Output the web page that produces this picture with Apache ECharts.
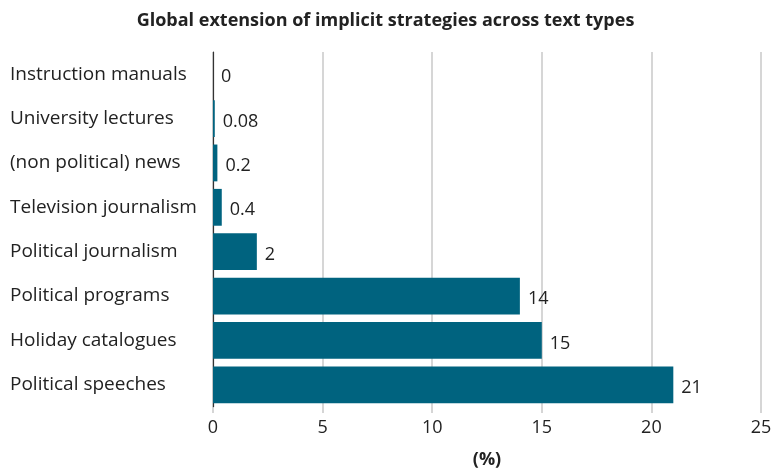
<!DOCTYPE html>
<html>
<head>
<meta charset="utf-8">
<script src="https://cdn.jsdelivr.net/npm/echarts@6/dist/echarts.min.js"></script>
<style>
  html, body { margin: 0; padding: 0; background: #fff; }
  #chart { width: 771px; height: 470px; }
</style>
</head>
<body>
<div id="chart"></div>
<script>
// Text types, listed bottom-to-top as the category axis draws them
const categories = [
  'Political speeches',
  'Holiday catalogues',
  'Political programs',
  'Political journalism',
  'Television journalism',
  '(non political) news',
  'University lectures',
  'Instruction manuals'
];
// Share of implicit strategies per text type (%)
const values = [21, 15, 14, 2, 0.4, 0.2, 0.08, 0];
const xTicks = [0, 5, 10, 15, 20, 25];

const FONT = '"Open Sans", "Noto Sans", sans-serif';
const chart = echarts.init(document.getElementById('chart'));

chart.setOption({
  backgroundColor: '#ffffff',
  animation: false,
  title: {
    text: 'Global extension of implicit strategies across text types',
    left: 'center',
    top: 7,
    textStyle: { fontFamily: FONT, fontSize: 18, fontWeight: 'bold', color: '#222' }
  },
  grid: { left: 213, right: 10, top: 52, bottom: 63, outerBoundsMode: 'none', containLabel: false },
  xAxis: {
    type: 'value',
    min: xTicks[0],
    max: xTicks[xTicks.length - 1],
    interval: 5,
    name: '(%)',
    nameLocation: 'middle',
    nameGap: 44,
    nameTextStyle: { fontFamily: FONT, fontSize: 18, fontWeight: 'bold', color: '#222' },
    axisLine: { show: false },
    axisTick: { show: true, length: 6, lineStyle: { color: '#c8c8c8', width: 1.5 } },
    axisLabel: { fontFamily: FONT, fontSize: 18, color: '#222', margin: 12 },
    splitLine: { show: true, lineStyle: { color: '#c8c8c8', width: 1.5 } }
  },
  yAxis: {
    type: 'category',
    data: categories,
    axisLine: { show: true, lineStyle: { color: '#333', width: 1.2 } },
    axisTick: { show: false },
    axisLabel: {
      fontFamily: FONT, fontSize: 19, color: '#222',
      align: 'left', margin: 203
    }
  },
  series: [{
    type: 'bar',
    data: values,
    barCategoryGap: '17%',
    itemStyle: { color: '#00637f' },
    label: {
      show: true,
      position: 'right',
      distance: 8,
      fontFamily: FONT,
      fontSize: 18,
      color: '#222',
      offset: [0, 3]
    }
  }]
});
</script>
</body>
</html>
